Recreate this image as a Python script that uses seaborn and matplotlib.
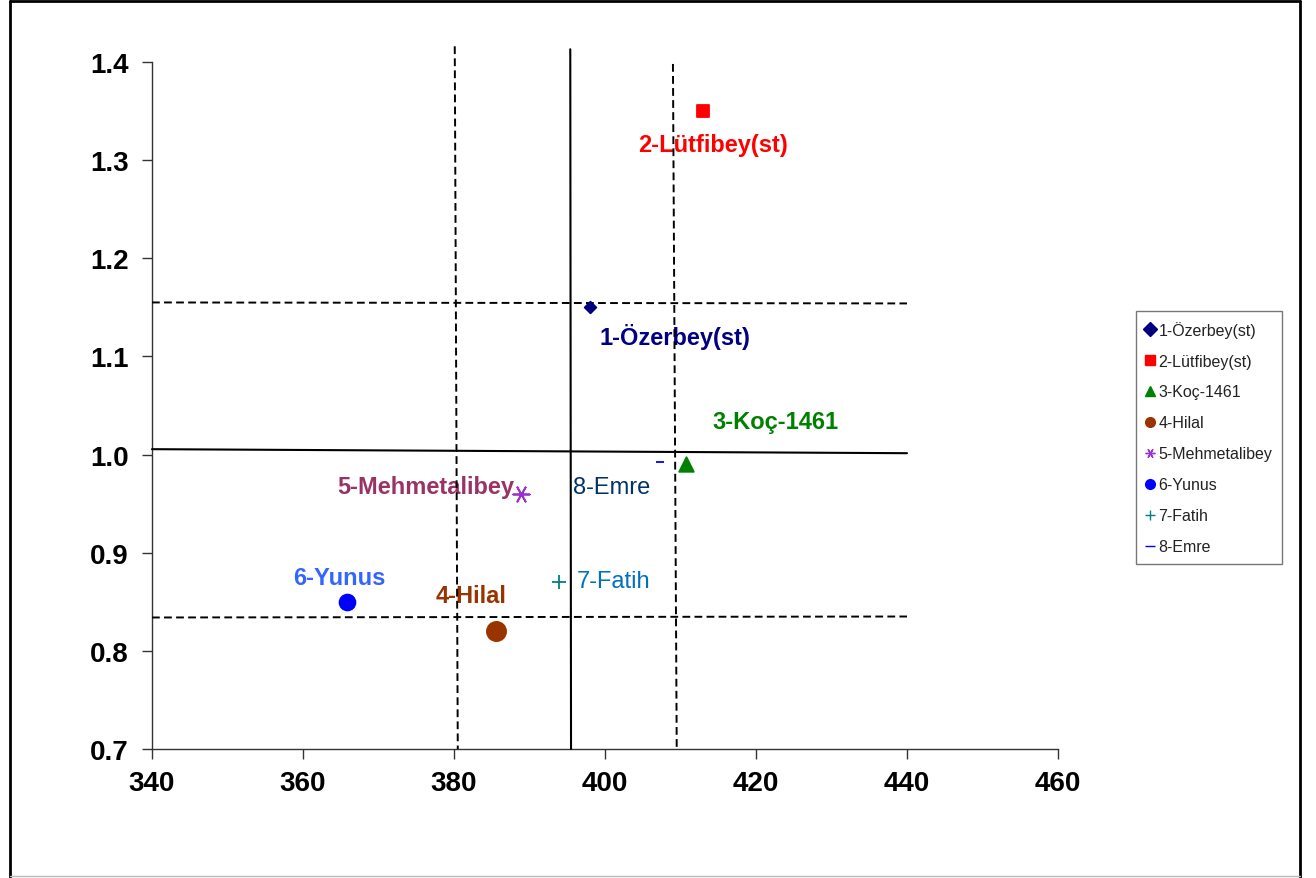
import matplotlib
matplotlib.use("Agg")
import matplotlib.pyplot as plt
import matplotlib.lines as mlines
import seaborn as sns

sns.set_style("white")
plt.rcParams["font.family"] = ["Liberation Sans", "DejaVu Sans"]

# pontos
names = ["1-Özerbey(st)", "2-Lütfibey(st)", "3-Koç-1461", "4-Hilal",
         "5-Mehmetalibey", "6-Yunus", "7-Fatih", "8-Emre"]
x_vals = [398.0, 413.0, 410.7, 385.6, 388.9, 365.8, 393.9, 407.3]
y_vals = [1.150, 1.350, 0.990, 0.820, 0.960, 0.850, 0.870, 0.992]

# onde fica o texto de cada ponto
label_x = [409.3, 414.3, 422.6, 382.3, 376.2, 364.8, 401.1, 400.9]
label_y = [1.121, 1.316, 1.034, 0.856, 0.967, 0.875, 0.871, 0.967]

# linhas de referencia (x, y)
solid_v = ([395.4, 395.5], [1.413, 0.70])
solid_h = ([340.0, 440.0], [1.0055, 1.0014])
dash_v1 = ([380.1, 380.5], [1.416, 0.70])
dash_v2 = ([409.0, 409.5], [1.398, 0.70])
dash_h1 = ([340.0, 440.0], [1.155, 1.154])
dash_h2 = ([340.0, 440.0], [0.834, 0.835])

x_ticks = [340, 360, 380, 400, 420, 440, 460]
y_ticks = [0.7, 0.8, 0.9, 1.0, 1.1, 1.2, 1.3, 1.4]

markers = ["D", "s", "^", "o", (6, 2, 90), "o", "+", "_"]
sizes = [35, 80, 110, 190, 140, 130, 110, 40]
marker_colors = ["#000080", "#FF0000", "#008000", "#993300",
                 "#9933CC", "#0000FF", "#008080", "#0000FF"]
text_colors = ["#000080", "#FF0000", "#008000", "#993300",
               "#993366", "#3366FF", "#0070C0", "#003366"]
bold = [True, True, True, True, True, True, False, False]

fig = plt.figure(figsize=(13.16, 8.79), dpi=100)
ax = fig.add_axes([152 / 1316, 1 - 750 / 879, 906 / 1316, 687 / 879])

for xs, ys in [solid_v, solid_h]:
    sns.lineplot(x=xs, y=ys, ax=ax, color="black", linewidth=1.5,
                 sort=False, estimator=None, clip_on=False, zorder=4)
for xs, ys in [dash_v1, dash_v2, dash_h1, dash_h2]:
    sns.lineplot(x=xs, y=ys, ax=ax, color="black", linewidth=1.4,
                 sort=False, estimator=None, clip_on=False, zorder=4,
                 linestyle=(0, (4, 2.2)))

handles = []
for i in range(len(names)):
    sns.scatterplot(x=[x_vals[i]], y=[y_vals[i]], ax=ax, marker=markers[i],
                    s=sizes[i], color=marker_colors[i], edgecolor=marker_colors[i],
                    linewidth=1.3, zorder=5, legend=False)
    handles.append(mlines.Line2D([], [], linestyle="none", marker=markers[i],
                                 color=marker_colors[i], markersize=7,
                                 markeredgewidth=1.0, label=names[i]))
    ax.text(label_x[i], label_y[i], names[i], color=text_colors[i],
            fontsize=17, fontweight="bold" if bold[i] else "normal",
            ha="center", va="center", zorder=3)

ax.set_xlim(340, 460)
ax.set_ylim(0.7, 1.4)
ax.set_xticks(x_ticks)
ax.set_yticks(y_ticks)
ax.set_xticklabels([str(t) for t in x_ticks])
ax.set_yticklabels([f"{t:.1f}" for t in y_ticks])
for lab in ax.get_xticklabels() + ax.get_yticklabels():
    lab.set_fontweight("bold")
ax.tick_params(axis="both", direction="out", length=7, width=1,
               labelsize=20, color="#333333", labelcolor="black",
               bottom=True, left=True)
ax.tick_params(axis="x", pad=8)
ax.tick_params(axis="y", pad=10)
for s in ["top", "right"]:
    ax.spines[s].set_visible(False)
for s in ["left", "bottom"]:
    ax.spines[s].set_color("#333333")
    ax.spines[s].set_linewidth(1)

leg = fig.legend(handles=handles, loc="upper left",
                 bbox_to_anchor=(1136 / 1316, 1 - 312 / 879),
                 fontsize=11.5, frameon=True, fancybox=False, edgecolor="#555555",
                 labelspacing=1.0, handlelength=0.6, handletextpad=0.2,
                 borderpad=0.6, borderaxespad=0)
leg.get_frame().set_linewidth(1)
for t in leg.get_texts():
    t.set_color("#222222")

# borda da figura
fig.add_artist(mlines.Line2D([10 / 1316, 10 / 1316], [0, 1 - 2 / 879],
                             color="black", linewidth=2, transform=fig.transFigure))
fig.add_artist(mlines.Line2D([10 / 1316, 1300 / 1316], [1 - 2 / 879, 1 - 2 / 879],
                             color="black", linewidth=2, transform=fig.transFigure))
fig.add_artist(mlines.Line2D([1300 / 1316, 1300 / 1316], [0, 1 - 2 / 879],
                             color="black", linewidth=2, transform=fig.transFigure))
fig.add_artist(mlines.Line2D([10 / 1316, 1300 / 1316], [2 / 879, 2 / 879],
                             color="#BBBBBB", linewidth=1, transform=fig.transFigure))

fig.savefig("out.png", dpi=100)
